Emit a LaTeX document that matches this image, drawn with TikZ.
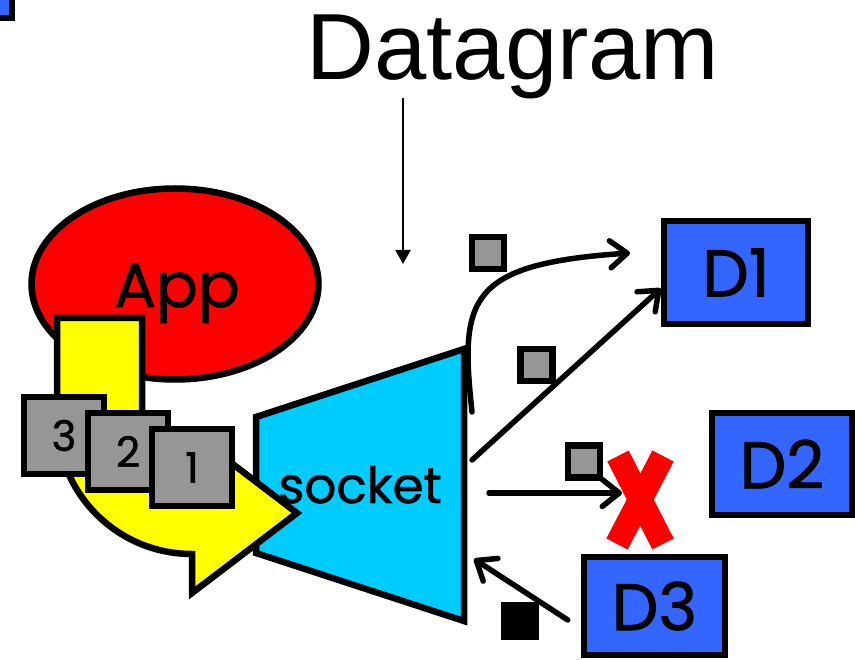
\documentclass[tikz,border=0pt]{standalone}
\usepackage{fontspec}
\setmainfont{Liberation Sans}
\newfontfamily\handfont[FakeBold=1.2]{Poppins}
\usetikzlibrary{arrows.meta,shapes.geometric}
\definecolor{hostblue}{RGB}{51,102,255}
\definecolor{sockcyan}{RGB}{0,204,255}
\definecolor{pktgray}{RGB}{150,150,150}
\definecolor{arrowyellow}{RGB}{255,255,0}
\definecolor{appred}{RGB}{255,0,0}
\tikzset{
  outline/.style={draw=black, line width=6.5pt, line join=miter},
  hostbox/.style={outline, fill=hostblue, rectangle, inner sep=0pt,
    font=\handfont\fontsize{66}{66}\selectfont},
  pkt/.style={outline, fill=pktgray, rectangle, minimum size=32pt, inner sep=0pt},
  numbox/.style={outline, fill=pktgray, rectangle, minimum width=80pt,
    minimum height=77pt, inner sep=0pt, font=\handfont\fontsize{42}{42}\selectfont},
  flow/.style={line width=5.5pt, line cap=round, line join=round,
    -{Straight Barb[length=17pt,width=27pt,line cap=round,line join=round]}},
}
\begin{document}
\begin{tikzpicture}[x=1pt,y=-1pt]
\useasboundingbox (0,0) rectangle (855,660);

% corner box at the top left
\draw[outline, fill=hostblue] (-40,-40) rectangle (12,18);

% title and its pointer
\node[anchor=base, inner sep=0pt, font=\fontsize{94}{94}\selectfont] (title) at (513,80) {Datagram};
\coordinate (dgtop) at (403,98);
\coordinate (dgend) at (403,264);
\draw[line width=2pt, -{Triangle[length=14pt,width=15pt]}] (dgtop) -- (dgend);

% application
\node[ellipse, outline, fill=appred, minimum width=287pt, minimum height=191pt, inner sep=0pt] (appell) at (175,284) {};
\node[anchor=base, inner sep=0pt, font=\handfont\fontsize{62}{62}\selectfont] (app) at (177,307) {App};

% socket
\coordinate (stl) at (256,417);
\coordinate (sbl) at (256,553);
\coordinate (str) at (464,349);
\coordinate (sbr) at (464,621);
\draw[outline, fill=sockcyan] (stl) -- (str) -- (sbr) -- (sbl) -- cycle;
\node[anchor=base, inner sep=0pt, font=\handfont\fontsize{50}{50}\selectfont] (socklbl) at (360,503) {socket};

% bent yellow arrow from the application into the socket
\draw[outline, fill=arrowyellow]
  (57,318) -- (142,318) -- (142,419)
  arc[start angle=180, end angle=90, radius=50] -- (192,433) -- (297,513)
  -- (192,593) -- (192,554)
  arc[start angle=90, end angle=180, radius=135] -- cycle;

% queued datagrams
\node[numbox] (q3) at (64,435.5) {3};
\node[numbox] (q2) at (128,451.5) {2};
\node[numbox] (q1) at (192,467.5) {1};

% remote hosts
\node[hostbox, minimum width=144pt, minimum height=103pt] (D1) at (736,272.5) {D1};
\node[hostbox, minimum width=140pt, minimum height=102pt] (D2) at (782,464) {D2};
\node[hostbox, minimum width=141pt, minimum height=98pt] (D3) at (654.5,606) {D3};

% datagrams leaving the socket
\coordinate (o1) at (472,412);
\coordinate (t1) at (630,253);
\draw[flow] (o1) .. controls (460,300) and (466,264) .. (t1);
\node[pkt] (p1) at (488,253) {};

\coordinate (o2) at (472,460);
\draw[flow] (o2) -- ([yshift=-16pt]D1.west);
\node[pkt] (p2) at (536.5,365) {};

\coordinate (o3) at (489,493);
\coordinate (lost) at (622,493);
\draw[flow] (o3) -- (lost);
\node[pkt] (p3) at (584,461.5) {};

% lost datagram
\draw[appred, line width=24pt] (618,456) -- (663,544);
\draw[appred, line width=24pt] (663,456) -- (617,544);

% datagram arriving from D3
\coordinate (i1) at (474,559);
\draw[flow] ([xshift=-13pt,yshift=-14pt]D3.west) -- (i1);
\node[rectangle, fill=black, minimum size=38pt, inner sep=0pt] (p4) at (520,621) {};
\end{tikzpicture}
\end{document}
